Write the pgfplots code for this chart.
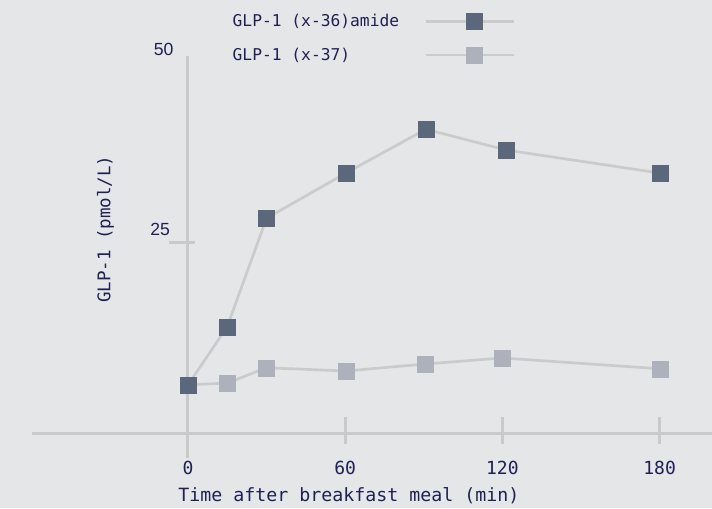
\documentclass[border=0pt]{standalone}
\usepackage{pgfplots}
\pgfplotsset{compat=1.18}
\usepackage{fontspec}
\setmainfont{DejaVu Sans Mono}
\newfontfamily\sansf{Liberation Sans}
\definecolor{bg}{HTML}{E5E6E8}
\definecolor{axc}{HTML}{CACACA}
\definecolor{linec}{HTML}{CBCBCB}
\definecolor{darkm}{HTML}{5B677A}
\definecolor{lightm}{HTML}{ADB1BC}
\definecolor{txt}{HTML}{1E2152}
\begin{document}
\begin{tikzpicture}
\path[use as bounding box, fill=bg] (0,0) rectangle (534pt,381pt);
\begin{axis}[
  at={(24pt,37.5pt)}, anchor=south west,
  scale only axis, width=510pt, height=301.5pt,
  xmin=-59.5, xmax=200, ymin=-4.99, ymax=51,
  axis x line=bottom, axis y line=middle,
  axis x line shift=-18.5pt,
  hide obscured x ticks=false,
  axis line style={draw=axc, line width=2.25pt},
  x axis line style={-}, y axis line style={-},
  xtick={0,60,120,180}, ytick={25},
  extra y ticks={50},
  extra y tick style={major tick length=0pt, yticklabel style={xshift=-7.4pt}},
  minor tick num=0,
  xtick align=center, ytick align=center, major tick length=20pt,
  xtick style={draw=axc, line width=2.25pt, yshift=2.3pt},
  ytick style={draw=axc, line width=2.25pt, xshift=-4.5pt},
  /pgf/number format/assume math mode=true,
  ticklabel style={text=txt},
  xticklabel style={font=\fontsize{13.5}{16}\selectfont, yshift=-7.5pt},
  yticklabel style={font=\sansf\fontsize{13.2}{16}\selectfont, yshift=10pt},
  legend plot pos=right, reverse legend, legend cell align=left,
  legend style={at={(axis description cs:0.2912,1.1107)}, anchor=north west,
    draw=none, fill=none, inner sep=0pt, outer sep=0pt,
    font=\fontsize{12.2}{14}\selectfont, text=txt,
    row sep=10.5pt, column sep=17pt},
  legend image code/.code={\draw[#1, mark repeat=2, mark phase=2] plot coordinates {(0pt,0pt) (36pt,0pt) (66pt,0pt)};},
  clip=false,
]
\addplot[linec, line width=2pt, mark=square*, mark size=6pt,
  mark options={draw=lightm, fill=lightm, line width=0.1pt}] coordinates {
  (0,5.2) (15,5.45) (30,7.58) (60.3,7.13) (90.5,8.1) (120,8.94) (180,7.44)};
\addlegendentry{GLP-1 (x-37)}
\addplot[linec, line width=2pt, mark=square*, mark size=6pt,
  mark options={draw=darkm, fill=darkm, line width=0.1pt}] coordinates {
  (0,5.18) (15,13.3) (30,28.4) (60.3,34.7) (90.8,40.8) (121.5,37.9) (180,34.7)};
\addlegendentry{GLP-1 (x-36)amide}
\node[rotate=90, font=\fontsize{13.1}{16}\selectfont, text=txt] at (axis description cs:0.108,0.569) {GLP-1 (pmol/L)};
\node[font=\fontsize{13.7}{16}\selectfont, text=txt] at (axis description cs:0.466,-0.0945) {Time after breakfast meal (min)};
\end{axis}
\end{tikzpicture}
\end{document}
